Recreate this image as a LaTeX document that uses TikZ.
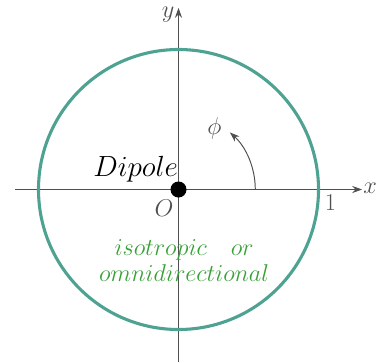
\documentclass[tikz,border=0pt]{standalone}
\definecolor{patternteal}{RGB}{78, 162, 146}
\definecolor{labelgreen}{RGB}{56, 160, 56}
\definecolor{axisgray}{RGB}{80, 80, 80}
\usepackage{tikz}
\usetikzlibrary{arrows.meta, positioning}
\usepackage{amsmath, amssymb}

\begin{document}
\begin{tikzpicture}[
  axis/.style={draw=axisgray, line width=0.6pt, -{Stealth[length=7pt, width=5pt]}},
  axlabel/.style={text=axisgray, inner sep=1pt, font=\fontsize{16}{18}\selectfont},
  pattern/.style={draw=patternteal, line width=2.2pt},
  bigtext/.style={inner sep=1pt, font=\fontsize{19.5}{22}\selectfont}
]
  \useasboundingbox (-4.4625, -4.3125) rectangle (5.0125, 4.7375);
  % axes
  \coordinate (xstart) at (-4.09, 0);
  \coordinate (xend) at (4.59, 0);
  \coordinate (ystart) at (0, -4.3125);
  \coordinate (yend) at (0, 4.54);
  \draw[axis] (xstart) -- (xend);
  \draw[axis] (ystart) -- (yend);
  \node[axlabel] (xlab) at (4.79, 0.04) {$x$};
  \node[axlabel] (ylab) at (-0.26, 4.36) {$y$};
  \node[axlabel] (olab) at (-0.36, -0.46) {$O$};
  \node[axlabel] (onelab) at (3.8, -0.32) {$1$};
  % radiation pattern
  \draw[pattern] (0, 0) circle (3.5);
  % angle
  \draw[axisgray, line width=0.7pt, -{Stealth[length=7pt, width=5pt]}] (1.92, 0) arc (0:48:1.92);
  \node[axlabel] (philab) at (0.9, 1.53) {$\phi$};
  % dipole
  \node[circle, fill=black, minimum size=0.4cm, inner sep=0pt] (dipole) at (0, 0) {};
  \node[bigtext] (dipolelab) at (-1.07, 0.5) {$Dipole$};
  \node[bigtext, text=labelgreen, align=center, font=\fontsize{17}{18.4}\selectfont] (kind) at (0.14, -1.78) {
    $isotropic\quad or$\\
    $omnidirectional$
  };
\end{tikzpicture}
\end{document}
